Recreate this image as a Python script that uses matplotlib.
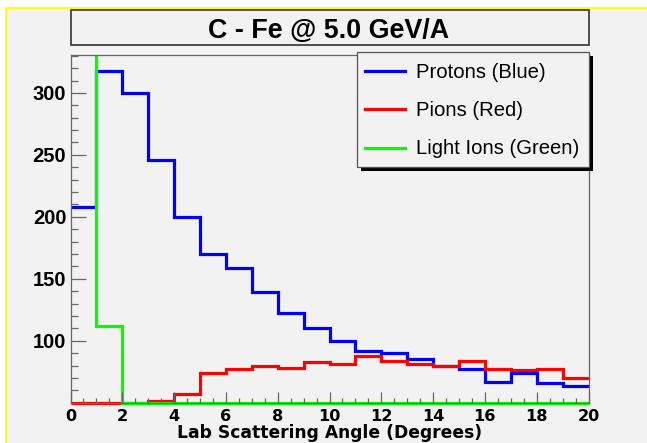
import numpy as np
import matplotlib
matplotlib.use('Agg')
import matplotlib.pyplot as plt
from matplotlib.patches import Rectangle
from matplotlib.lines import Line2D

# histogram bins (lab scattering angle, degrees) and counts per bin
angle_edges = np.arange(0, 21, 1)
protons = [208, 318, 300, 246, 200, 170, 159, 139, 122, 110,
           100, 92, 90.5, 85, 80, 77, 67, 74, 65.5, 63.5]
pions = [0, 0, 0, 51.5, 57, 74, 77, 80, 78, 82.5,
         81.5, 87.5, 84, 81.5, 80, 84, 77.5, 76.5, 77.5, 70]
light_ions = [1200, 112, 0, 0, 0, 0, 0, 0, 0, 0,
              0, 0, 0, 0, 0, 0, 0, 0, 0, 0]
series_names = ['Protons (Blue)', 'Pions (Red)', 'Light Ions (Green)']
series_colors = ['#0000ff', '#ff0000', '#00ff00']

title = 'C - Fe @ 5.0 GeV/A'
x_label = 'Lab Scattering Angle (Degrees)'
y_min, y_max = 50, 331

W, H = 647, 443
plt.rcParams['font.family'] = ['Liberation Sans', 'DejaVu Sans']


def fx(x):
    return x / W


def fy(y):
    return 1 - y / H


fig = plt.figure(figsize=(W / 100, H / 100), dpi=100)
fig.patch.set_facecolor('white')

# ROOT canvas: gray pad with yellow frame
fig.patches.append(Rectangle((fx(6), -0.1), 1.2, fy(8) + 0.1, transform=fig.transFigure,
                             facecolor='#f2f2f2', edgecolor='#ffff00', lw=1.3, zorder=-5))

ax = fig.add_axes([fx(70.5), fy(402.7), fx(588.5) - fx(70.5), fy(54.5) - fy(402.7)])
ax.set_facecolor('#f2f2f2')

clip = Rectangle((-0.01, -0.02), 1.02, 1.02, transform=ax.transAxes)
for vals, col in zip([protons, pions, light_ions], series_colors):
    # ROOT draws bins below the minimum on the frame bottom
    shown = np.maximum(np.array(vals, dtype=float), y_min)
    st = ax.stairs(shown, angle_edges, baseline=None, color=col, lw=2.3)
    st.set_joinstyle('miter')
    st.set_clip_path(clip)

ax.set_xlim(0, 20)
ax.set_ylim(y_min, y_max)
ax.set_xticks(np.arange(0, 21, 2))
ax.set_xticks(np.arange(0, 20.1, 0.5), minor=True)
ax.set_yticks(np.arange(100, 301, 50))
ax.set_yticks(np.arange(50, 331, 10), minor=True)

for s in ax.spines.values():
    s.set_color('#666666')
    s.set_linewidth(0.9)

ax.tick_params(axis='both', which='both', direction='in', color='#666666', width=0.9)
ax.tick_params(axis='y', which='major', length=11, pad=3, labelsize=14.5)
ax.tick_params(axis='y', which='minor', length=5)
ax.tick_params(axis='x', which='major', length=8, pad=4.6, labelsize=11.6)
ax.tick_params(axis='x', which='minor', length=3.5)
for lab in ax.get_yticklabels():
    lab.set_fontweight('bold')
for lab in ax.get_xticklabels():
    lab.set_fontweight('bold')
    lab.set_family('DejaVu Sans')

# x axis title, placed on its baseline like the ROOT canvas
fig.text(fx(330), fy(438.3), x_label, ha='center', va='baseline', fontsize=12.3,
         fontweight='bold', family='DejaVu Sans')

# title box
fig.patches.append(Rectangle((fx(71), fy(44.5)), fx(589) - fx(71), fy(10) - fy(44.5),
                             transform=fig.transFigure, facecolor='#f2f2f2',
                             edgecolor='#333333', lw=1.2, zorder=2))
fig.text(fx(329), fy(38.3), title, ha='center', va='baseline', fontsize=19.4,
         fontweight='bold', color='black', zorder=3)

# legend box with shadow
fig.patches.append(Rectangle((fx(361), fy(170.7)), fx(593) - fx(361), fy(56.3) - fy(170.7),
                             transform=fig.transFigure, facecolor='black',
                             edgecolor='none', zorder=2))
fig.patches.append(Rectangle((fx(357), fy(166.7)), fx(589) - fx(357), fy(52.3) - fy(166.7),
                             transform=fig.transFigure, facecolor='#f2f2f2',
                             edgecolor='#555555', lw=0.9, zorder=3))
line_y = [71, 109.3, 147.7]
text_y = [77.7, 116, 154.3]
for name, col, ly, ty in zip(series_names, series_colors, line_y, text_y):
    fig.lines.append(Line2D([fx(365.5), fx(405)], [fy(ly), fy(ly)], transform=fig.transFigure,
                            color=col, lw=2.3, zorder=4))
    fig.text(fx(415.5), fy(ty), name, ha='left', va='baseline', fontsize=14.6, zorder=4)

fig.savefig('out.png', dpi=100)
